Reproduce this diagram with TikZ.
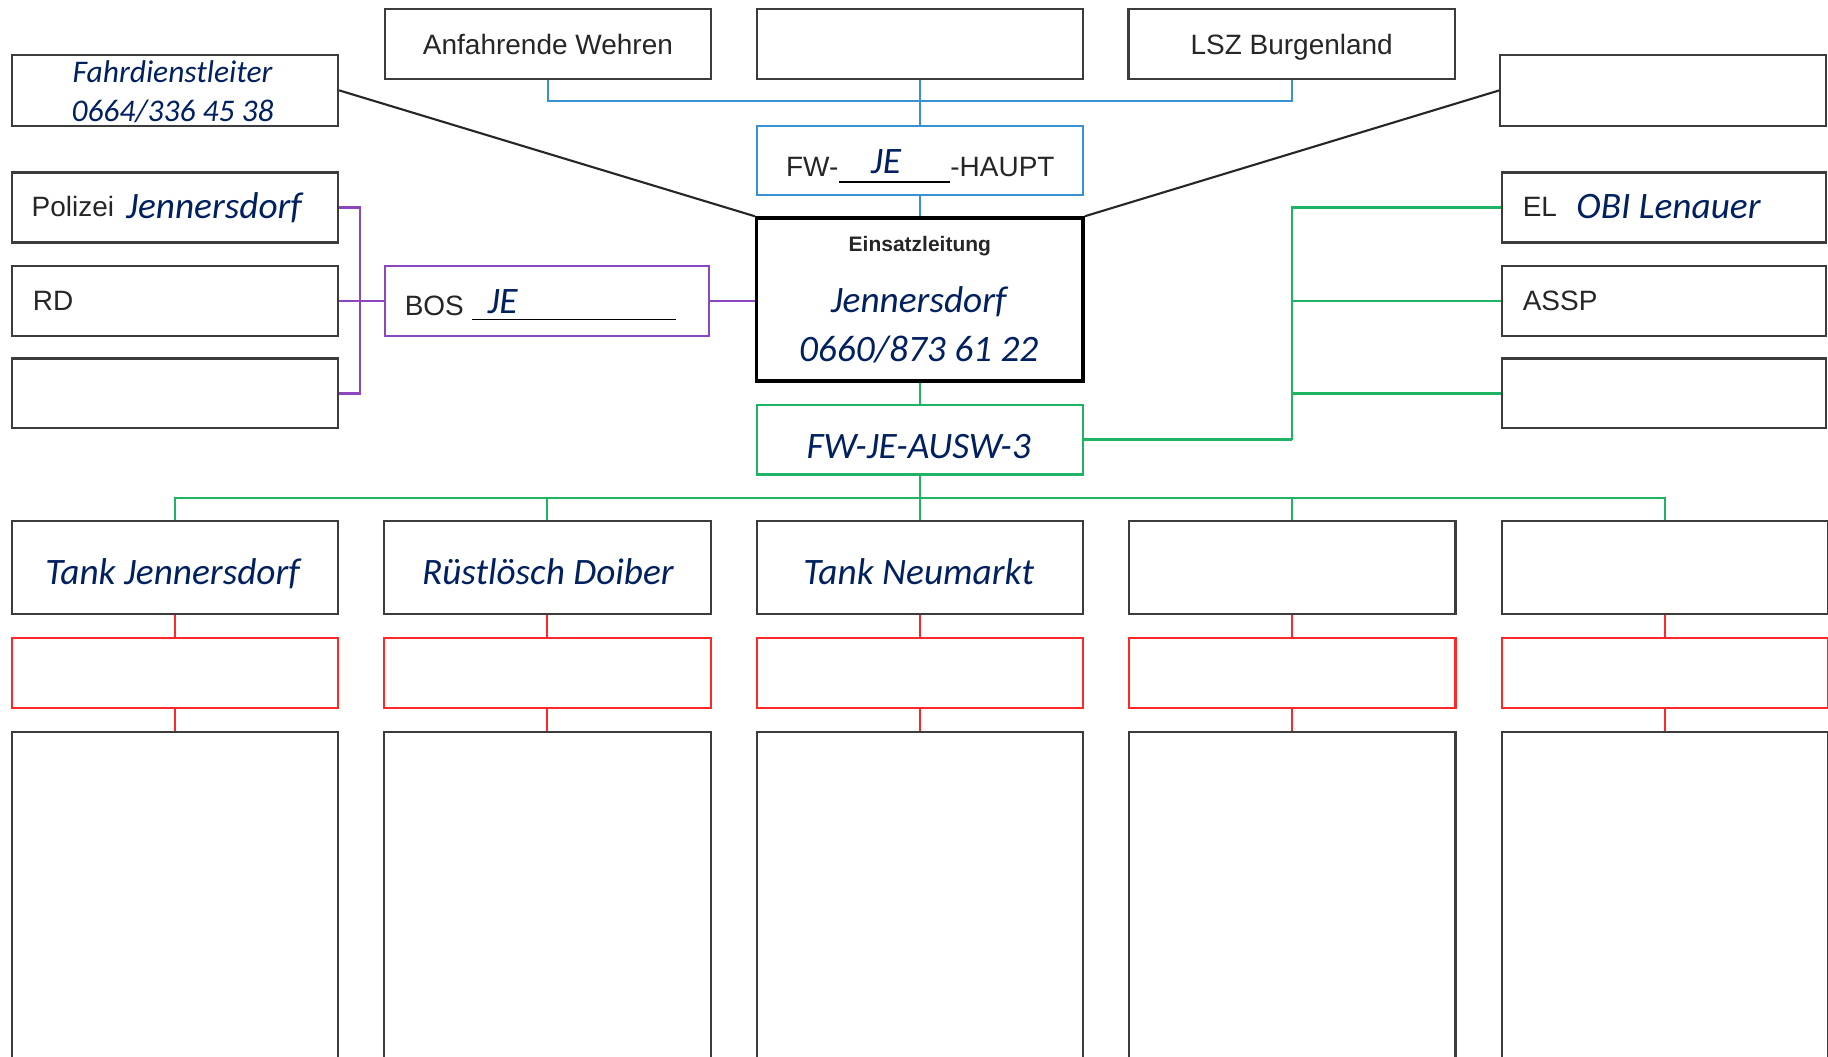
\documentclass[tikz,border=0pt]{standalone}
\usepackage{fontspec}
\setmainfont{Liberation Sans}
\newfontfamily\calfont{Carlito}
\definecolor{boxgray}{RGB}{60,60,60}
\definecolor{navy}{RGB}{0,32,96}
\definecolor{lblue}{RGB}{58,145,210}
\definecolor{lpurple}{RGB}{140,70,190}
\definecolor{lgreen}{RGB}{30,180,100}
\definecolor{lred}{RGB}{255,40,40}
\tikzset{
  box/.style={draw=boxgray, line width=1.8pt, minimum width=280pt, minimum height=60pt, inner sep=0pt},
  sans/.style={font=\fontsize{24}{28}\selectfont, text=black!85, inner sep=0pt},
  ital/.style={font=\calfont\itshape\fontsize{32}{36}\selectfont, text=navy, inner sep=0pt},
  itals/.style={font=\calfont\itshape\fontsize{27}{30}\selectfont, text=navy, inner sep=0pt},
  bconn/.style={draw=lblue, line width=1.8pt},
  pconn/.style={draw=lpurple, line width=1.8pt},
  gconn/.style={draw=lgreen, line width=1.8pt},
  rconn/.style={draw=lred, line width=1.8pt},
  kconn/.style={draw=black!85, line width=1.8pt},
}
\begin{document}
\begin{tikzpicture}[x=1pt,y=-1pt]
\useasboundingbox (0,0) rectangle (1568,906);
\fill[white] (0,0) rectangle (1568,906);
% top row
\node[box] (A) at (470,38) {};
\node[box] (E) at (789,38) {};
\node[box] (L) at (1108,38) {};
\node[box, minimum height=61pt] (F) at (150,77.5) {};
\node[box, minimum height=61pt, minimum width=279pt] (TR) at (1426.5,77.5) {};
\node[box, draw=lblue, minimum height=59pt] (H) at (789,137.5) {};
\node[box, draw=black, line width=3pt, minimum height=140pt] (EL) at (789,257) {};
% left column
\node[box] (P) at (150,178) {};
\node[box] (RD) at (150,258) {};
\node[box] (LE) at (150,337.5) {};
\node[box, draw=lpurple, minimum width=278pt] (BOS) at (469,258) {};
% right column
\node[box, minimum width=278pt] (R1) at (1427,178) {};
\node[box, minimum width=278pt] (R2) at (1427,258) {};
\node[box, minimum width=278pt] (R3) at (1427,337.5) {};
\node[box, draw=lgreen] (AU) at (789,377) {};
% bottom rows
\foreach \i/\x in {1/150,2/469.5,3/789,4/1108.5,5/1428}{
  \node[box, minimum height=80pt] (B\i) at (\x,487) {};
  \node[box, draw=lred] (Q\i) at (\x,577) {};
  \node[box, minimum height=320pt, anchor=north] (T\i) at (\x,627) {};
}
% texts
\node[sans, anchor=base] (tA) at (470,46.6) {Anfahrende Wehren};
\node[sans, anchor=base] (tL) at (1108,46.6) {LSZ Burgenland};
\node[itals, anchor=base] (tF1) at (148,70.5) {Fahrdienstleiter};
\node[itals, anchor=base] (tF2) at (148,104) {0664/336 45 38};
\node[sans, anchor=base west] (tH1) at (674,151.6) {FW-};
\node[ital, anchor=base] (tH2) at (760,149) {JE};
\node[sans, anchor=base west] (tH3) at (815,151.6) {-HAUPT};
\draw[black, line width=1.3pt] (720,156) -- (815,156);
\node[font=\bfseries\fontsize{18}{22}\selectfont, inner sep=0pt, anchor=base, text=black!85] (tE1) at (789,216) {Einsatzleitung};
\node[ital, anchor=base] (tE2) at (788,268) {Jennersdorf};
\node[ital, anchor=base] (tE3) at (788,310) {0660/873 61 22};
\node[sans, anchor=base west] (tP1) at (27,186) {Polizei};
\node[ital, anchor=base west] (tP2) at (108,187) {Jennersdorf};
\node[sans, anchor=base west] (tRD) at (28,266.6) {RD};
\node[sans, anchor=base west] (tB1) at (347,270.6) {BOS};
\node[ital, anchor=base west] (tB2) at (418,269) {JE};
\draw[black, line width=1.3pt] (405,274) -- (580,274);
\node[ital, anchor=base] (tAU) at (788,393) {FW-JE-AUSW-3};
\node[sans, anchor=base west] (tR1) at (1306,186) {EL};
\node[ital, anchor=base west] (tR1b) at (1352,187) {OBI Lenauer};
\node[sans, anchor=base west] (tR2) at (1306,266) {ASSP};
\node[ital, anchor=base] (tB1x) at (148,501) {Tank Jennersdorf};
\node[ital, anchor=base] (tB2x) at (470,501) {Rüstlösch Doiber};
\node[ital, anchor=base] (tB3x) at (788,501) {Tank Neumarkt};
% blue connectors
\coordinate (bbus) at (789,87);
\draw[bconn] (A.south) |- (bbus) -| (L.south);
\draw[bconn] (E.south) -- (H.north);
\draw[bconn] (H.south) -- (EL.north);
% black connectors
\draw[kconn] (F.east) -- (EL.north west);
\draw[kconn] (TR.west) -- (EL.north east);
% purple
\coordinate (pbus) at (309,258);
\draw[pconn] (P.east) -| (pbus |- LE.east) -- (LE.east);
\draw[pconn] (RD.east) -- (BOS.west);
\draw[pconn] (BOS.east) -- (BOS.east -| EL.west);
% green
\draw[gconn] (EL.south) -- (AU.north);
\coordinate (gx) at (1108,377);
\draw[gconn, line width=3pt] (AU.east) -- (gx);
\draw[gconn] (R1.west) -| (gx);
\draw[gconn] (R2.west) -- (R2.west -| gx);
\draw[gconn] (R3.west) -- (R3.west -| gx);
\coordinate (gb) at (789,427);
\draw[gconn] (AU.south) -- (B3.north);
\draw[gconn] (B1.north) |- (gb) -| (B5.north);
\draw[gconn] (B2.north) -- (B2.north |- gb);
\draw[gconn] (B4.north) -- (B4.north |- gb);
% red
\foreach \i in {1,...,5}{
  \draw[rconn] (B\i.south) -- (Q\i.north);
  \draw[rconn] (Q\i.south) -- (T\i.north);
}
\end{tikzpicture}
\end{document}
